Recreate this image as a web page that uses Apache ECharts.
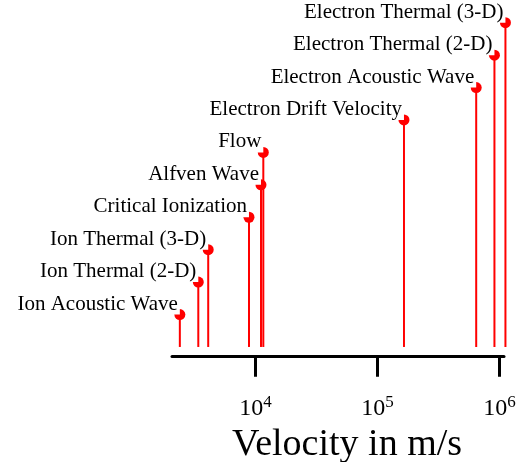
<!DOCTYPE html>
<html>
<head>
<meta charset="utf-8">
<script src="https://cdn.jsdelivr.net/npm/echarts@6/dist/echarts.min.js"></script>
<style>
  html, body { margin: 0; padding: 0; background: #fff; }
  #chart { width: 530px; height: 462px; }
</style>
</head>
<body>
<div id="chart"></div>
<script>
// 速度数据 (m/s)
const names = [
  'Ion Acoustic Wave', 'Ion Thermal (2-D)', 'Ion Thermal (3-D)',
  'Critical Ionization', 'Alfven Wave', 'Flow',
  'Electron Drift Velocity', 'Electron Acoustic Wave',
  'Electron Thermal (2-D)', 'Electron Thermal (3-D)'
];
const velocities = [2400, 3400, 4100, 8850, 11100, 11600, 165000, 645000, 910000, 1120000];
const levels = [1, 2, 3, 4, 5, 6, 7, 8, 9, 10];
const tickValues = [1e4, 1e5, 1e6];

const FONT = 'Liberation Serif';
const RED = '#ff0000';

const points = velocities.map((v, i) => [v, levels[i], names[i]]);

const chart = echarts.init(document.getElementById('chart'));
chart.setOption({
  animation: false,
  grid: { left: 172, right: 26, top: 22.7, bottom: 105.3, outerBoundsMode: 'none' },
  xAxis: {
    type: 'log',
    logBase: 10,
    min: 2070,
    max: 1090000,
    name: 'Velocity in m/s',
    nameLocation: 'middle',
    nameGap: 55,
    nameTextStyle: { fontFamily: FONT, fontSize: 38, color: '#000', padding: [0, 0, 0, 18] },
    axisLine: { onZero: false, lineStyle: { color: '#000', width: 3 } },
    axisTick: { length: 20, lineStyle: { color: '#000', width: 3 }, customValues: tickValues },
    axisLabel: {
      customValues: tickValues,
      margin: 37,
      formatter: function (v) {
        return '{b|10}{s|' + Math.round(Math.log10(v)) + '}';
      },
      rich: {
        b: { fontFamily: FONT, fontSize: 24, color: '#000' },
        s: { fontFamily: FONT, fontSize: 17, color: '#000', padding: [0, 0, 14, 0] }
      }
    },
    splitLine: { show: false },
    minorTick: { show: false }
  },
  yAxis: {
    type: 'value',
    min: -0.3,
    max: 10,
    show: false
  },
  series: [{
    // 竖线, 从 0 画到点
    type: 'custom',
    clip: false,
    data: points,
    renderItem: function (params, api) {
      const top = api.coord([api.value(0), api.value(1)]);
      const bottom = api.coord([api.value(0), 0]);
      return {
        type: 'line',
        shape: { x1: top[0], y1: top[1], x2: bottom[0], y2: bottom[1] },
        style: { stroke: RED, lineWidth: 2 }
      };
    }
  }, {
    // 圆点 + 标签
    type: 'scatter',
    clip: false,
    data: points,
    symbol: 'circle',
    symbolSize: 11,
    itemStyle: { color: RED, opacity: 1 },
    label: {
      show: true,
      position: [5.5, 5.5],
      align: 'right',
      verticalAlign: 'bottom',
      formatter: p => p.data[2],
      fontFamily: FONT,
      fontSize: 21,
      color: '#000',
      backgroundColor: '#fff',
      padding: [0, 2, 0, 0]
    }
  }]
});
</script>
</body>
</html>
